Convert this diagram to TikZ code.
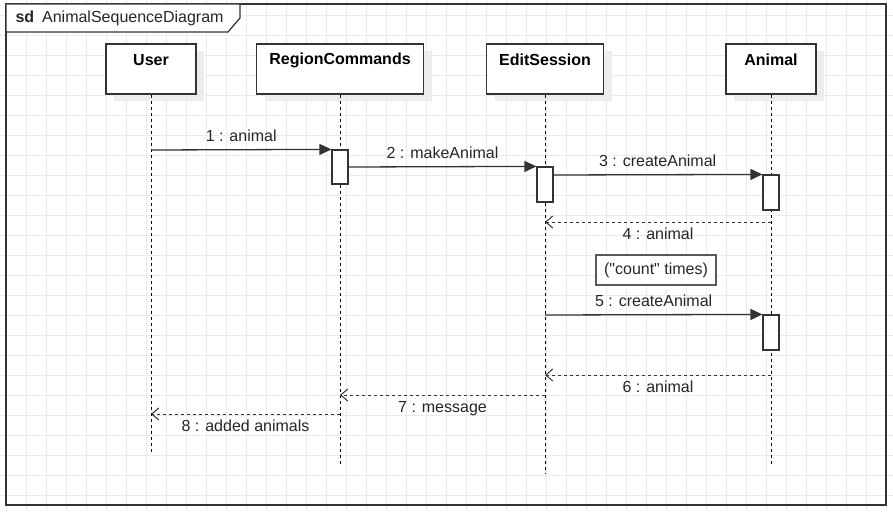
\documentclass[tikz,border=0pt]{standalone}
\usepackage{fontspec}
\setmainfont{Liberation Sans}[Ligatures=TeXOff]
\usetikzlibrary{arrows.meta,calc}
\tikzset {>=Stealth}
\tikzset{
  headbox/.style={draw=black!80,line width=1.2pt,fill=white,minimum height=50pt,inner sep=0pt},
  actbox/.style={draw=black!80,line width=1.2pt,fill=white,minimum width=16pt,minimum height=35pt,inner sep=0pt},
  lifeline/.style={line width=.9pt,dash pattern=on 3pt off 3pt},
  callmsg/.style={line width=1.3pt,draw=black!80,-{Triangle[length=12pt,width=11pt]}},
  retmsg/.style={line width=1pt,draw=black!80,dash pattern=on 3pt off 3pt,-{Straight Barb[length=7pt,width=12pt]}},
  calllbl/.style={midway,anchor=base,yshift=8pt,text=black!85},
  retlbl/.style={midway,anchor=base,yshift=-17pt,text=black!85},
}

\begin{document}
\begin{tikzpicture}[x=1pt,y=-1pt,font=\fontsize{16}{19}\selectfont]
\useasboundingbox (0,0) rectangle (893,511);
\fill[white] (0,0) rectangle (893,511);
% grid
\foreach \gx in {0,...,44} \draw[black!8,line width=.8pt] (6.7+20*\gx,0) -- (6.7+20*\gx,511);
\foreach \gy in {0,...,24} \draw[black!8,line width=.8pt] (0,15+20*\gy) -- (893,15+20*\gy);
% frame
\draw[black!80,line width=1.4pt] (6,4) rectangle (886,505);
\draw[black!80,line width=1.2pt,fill=white] (6,4) -- (240,4) -- (240,18) -- (228,32) -- (6,32) -- cycle;
\node[anchor=base west,text=black!85] (title) at (12,23) {\textbf{sd}\hspace{3.5pt} AnimalSequenceDiagram};
% heads
\foreach \cx/\cw in {151/90,340/167,545/117,771/90}
  \fill[black!7] (\cx-\cw/2+8,51) rectangle (\cx+\cw/2+8,101);
\node[headbox,minimum width=90pt] (user) at (151,69) {};
\node[headbox,minimum width=167pt] (region) at (340,69) {};
\node[headbox,minimum width=117pt] (session) at (545,69) {};
\node[headbox,minimum width=90pt] (animal) at (771,69) {};
\node[font=\fontsize{16}{19}\selectfont\bfseries] (userlbl) at (151,60) {User};
\node[font=\fontsize{16}{19}\selectfont\bfseries] (regionlbl) at (340,60) {RegionCommands};
\node[font=\fontsize{16}{19}\selectfont\bfseries] (sessionlbl) at (545,60) {EditSession};
\node[font=\fontsize{16}{19}\selectfont\bfseries] (animallbl) at (771,60) {Animal};
% lifelines
\coordinate (userend) at (151,452);
\coordinate (regionend) at (340,465);
\coordinate (sessionend) at (545,474);
\coordinate (animalend) at (771,465);
\draw[lifeline] (user.south) -- (userend);
\draw[lifeline] (region.south) -- (regionend);
\draw[lifeline] (session.south) -- (sessionend);
\draw[lifeline] (animal.south) -- (animalend);
% activations
\node[actbox,minimum height=34pt] (regionact) at (340,167) {};
\node[actbox] (sessionact) at (545,184.5) {};
\node[actbox] (animalact1) at (771,192.5) {};
\node[actbox] (animalact2) at (771,332.5) {};
\node[draw=black!65,line width=1.4pt,fill=white,minimum width=120pt,minimum height=30pt,inner sep=0pt,text=black!85] (countnote) at (656,270) {("count" times)};
% messages
\coordinate (m1) at (151,150);
\coordinate (m3) at (553,175);
\coordinate (m4a) at (771,222);
\coordinate (m4b) at (545,222);
\coordinate (m5) at (545,315);
\coordinate (m6a) at (771,375);
\coordinate (m6b) at (545,375);
\coordinate (m7a) at (545,395);
\coordinate (m7b) at (340,395);
\coordinate (m8a) at (340,414);
\coordinate (m8b) at (151,414);
\draw[callmsg] (m1) -- node[calllbl] {1 : animal} (regionact.north west);
\draw[callmsg] (regionact.east) -- node[calllbl] {2 : makeAnimal} (sessionact.north west);
\draw[callmsg] (m3) -- node[calllbl] {3 : createAnimal} (animalact1.north west);
\draw[retmsg] (m4a) -- node[retlbl] {4 : animal} (m4b);
\draw[callmsg] (m5) -- node[calllbl] {5 : createAnimal} (animalact2.north west);
\draw[retmsg] (m6a) -- node[retlbl] {6 : animal} (m6b);
\draw[retmsg] (m7a) -- node[retlbl] {7 : message} (m7b);
\draw[retmsg] (m8a) -- node[retlbl] {8 : added animals} (m8b);
\end{tikzpicture}
\end{document}
